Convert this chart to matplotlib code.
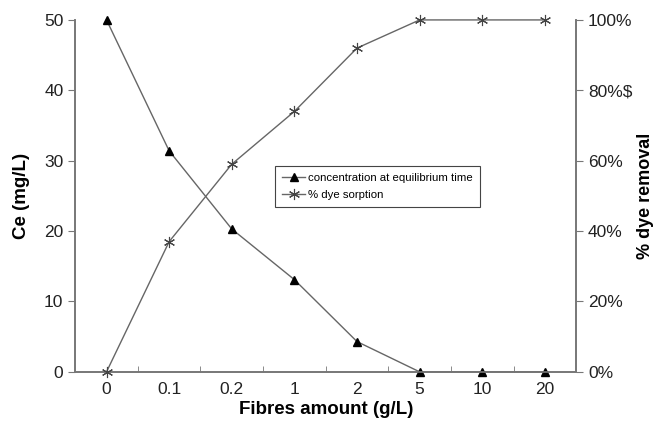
import matplotlib
matplotlib.use('Agg')
import matplotlib.pyplot as plt
import numpy as np
from matplotlib.ticker import FixedLocator, FixedFormatter

matplotlib.rc('font', family='Liberation Sans')

fibres = ['0', '0.1', '0.2', '1', '2', '5', '10', '20']
ce = [50, 31.4, 20.3, 13.1, 4.3, 0, 0, 0]
removal = [0, 37, 59, 74, 92, 100, 100, 100]
right_ticks = [0, 20, 40, 60, 80, 100]
right_labels = ['0%', '20%', '40%', '60%', '80%$', '100%']

fig = plt.figure(figsize=(6.54, 4.24), dpi=100)
ax = fig.add_axes([0.115, 0.123, 0.766, 0.830])
ax2 = ax.twinx()

x = np.arange(len(fibres))
l1, = ax.plot(x, ce, color='#666666', lw=1, marker='^', ms=6,
              mfc='black', mec='black', label='concentration at equilibrium time',
              clip_on=False, zorder=5)
l2, = ax2.plot(x, removal, color='#666666', lw=1, marker=(6, 2, 0), ms=8,
               mec='#444444', mew=0.8, label='% dye sorption',
               clip_on=False, zorder=5)

ax.set_xlim(-0.5, len(fibres) - 0.5)
ax.set_ylim(0, 50)
ax2.set_ylim(0, 100)
ax.set_yticks([0, 10, 20, 30, 40, 50])
ax2.yaxis.set_major_locator(FixedLocator(right_ticks))
ax2.yaxis.set_major_formatter(FixedFormatter(right_labels))

ax.set_xticks(x)
ax.set_xticklabels(fibres)
ax.xaxis.set_minor_locator(FixedLocator(np.arange(0.5, len(fibres) - 1, 1)))
ax.tick_params(axis='x', which='major', length=0, labelsize=12.5, pad=7, colors='#222222')
ax.tick_params(axis='x', which='minor', length=4, direction='in', color='#777777')
ax.tick_params(axis='y', labelsize=12.5, length=5, color='#777777', labelcolor='#222222')
ax2.tick_params(axis='y', labelsize=12.5, length=5, color='#777777', labelcolor='#222222')

for a in (ax, ax2):
    a.spines['top'].set_visible(False)
    for s in ('left', 'right', 'bottom'):
        a.spines[s].set_color('#777777')
        a.spines[s].set_linewidth(1.2)

ax.set_xlabel('Fibres amount (g/L)', fontsize=13.5, fontweight='bold', labelpad=3)
ax.set_ylabel('Ce (mg/L)', fontsize=13.5, fontweight='bold', labelpad=10)
ax2.set_ylabel('% dye removal', fontsize=13, fontweight='bold', labelpad=3)

leg = ax2.legend(handles=[l1, l2], loc='upper left', bbox_to_anchor=(0.388, 0.6),
                 fontsize=8.2, fancybox=False, edgecolor='#444444', framealpha=1,
                 handlelength=2.0, borderpad=0.6, labelspacing=0.6, handletextpad=0.3)
leg.get_frame().set_linewidth(0.8)
leg.set_zorder(10)

fig.savefig('out.png', dpi=100)
